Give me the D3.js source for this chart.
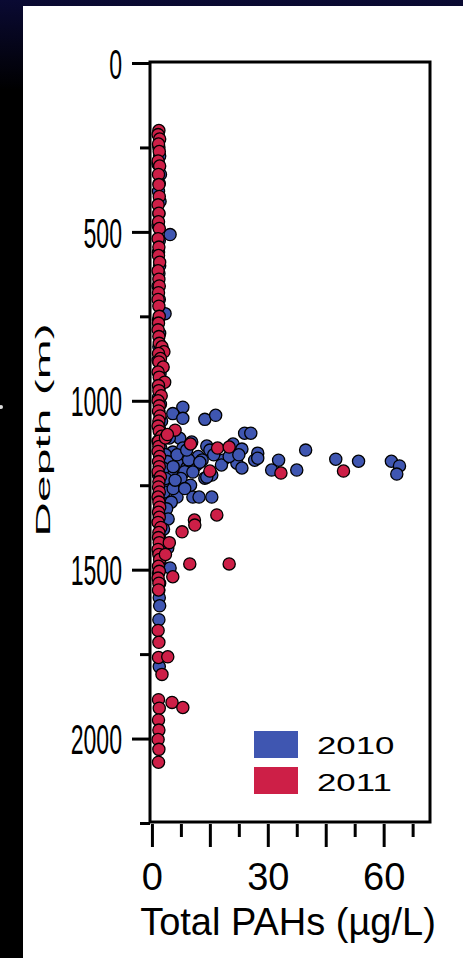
<!DOCTYPE html>
<html lang="en">
<head>
  <meta charset="UTF-8">
  <title>Depth vs Total PAHs</title>
  <script src="https://d3js.org/d3.v7.min.js"></script>
  <style>
    body {
      margin: 0;
      padding: 0;
      width: 463px;
      height: 958px;
      overflow: hidden;
      background: linear-gradient(#0a0a33 0px, #000 90px);
    }
    svg {
      position: absolute;
      left: 0;
      top: 0;
    }
    text {
      font-family: 'Liberation Sans', Arial, sans-serif;
      fill: #000;
    }
  </style>
</head>
<body>
  <svg id="chart" width="463" height="958"></svg>

  <script>
    // 2010 cruise: depth (m) and total PAHs (ug/L)
    var depth2010 = [250, 275, 300, 330, 357, 380, 410, 446, 480, 508, 526, 560, 600, 623, 660, 700,
      742, 760, 800, 840, 880, 920, 960, 990, 1010, 1030, 1060, 1080, 1100, 1120, 1140, 1160, 1180,
      1200, 1220, 1240, 1260, 1280, 1300, 1320, 1340, 1360, 1380, 1400, 1420, 1436, 1450, 1480, 1495,
      1510, 1540, 1560, 1583, 1607, 1648, 1787,
      1019, 1038, 1052, 1055, 1043, 1096, 1096, 1111, 1122, 1134, 1128, 1143, 1146, 1146, 1155, 1152,
      1140, 1176, 1176, 1185, 1176, 1170, 1176, 1173, 1179, 1179, 1193, 1217, 1205, 1205, 1199, 1205,
      1190, 1229, 1220, 1199, 1220, 1241, 1285, 1285, 1285, 1285,
      1160, 1180, 1200, 1250, 1270, 1300, 1320, 1350, 1380, 1110, 1160, 1195, 1210, 1190, 1165, 1175,
      1190, 1160, 1175, 1165, 1160, 1230, 1260, 1230, 1250, 1260, 1146, 1182, 1226, 1211, 1235];
    var pah2010 = [1.8, 2.0, 1.6, 2.2, 1.9, 1.7, 2.1, 1.8, 1.6, 4.7, 1.9, 1.7, 2.0, 1.8, 1.6, 1.9,
      3.4, 1.7, 2.0, 1.8, 1.6, 2.1, 1.9, 1.7, 2.2, 1.8, 2.5, 1.9, 2.7, 1.6, 2.3, 2.8, 1.9,
      2.4, 1.7, 2.6, 2.0, 1.8, 2.5, 1.9, 2.2, 1.7, 2.4, 1.9, 2.0, 4.1, 1.8, 2.1, 4.7,
      1.7, 2.0, 1.8, 1.9, 2.0, 1.8, 1.9,
      8.0, 5.4, 8.0, 13.7, 16.5, 24.0, 25.6, 7.2, 10.3, 14.2, 21.0, 23.3, 15.0, 39.8, 27.4, 5.4,
      8.0, 12.4, 18.4, 22.0, 26.6, 27.4, 32.8, 47.6, 53.5, 62.0, 64.1, 63.4, 31.0, 37.5, 23.3, 10.6,
      7.0, 13.7, 15.5, 9.0, 5.2, 6.0, 6.5, 10.6, 12.2, 15.5,
      3.5, 4.0, 3.0, 4.5, 3.2, 5.0, 3.8, 4.2, 3.0, 4.5, 6.5, 5.5, 8.5, 11.5, 12.0, 9.5,
      18.0, 16.0, 13.0, 20.0, 22.5, 3.5, 5.5, 7.5, 10.0, 8.5, 9.0, 12.4, 14.2, 10.6, 6.0];

    // 2011 cruise: depth (m) and total PAHs (ug/L)
    var depth2011 = [200, 212, 225, 240, 262, 290, 305, 330, 360, 395, 420, 445, 470, 490, 520, 545,
      570, 590, 615, 640, 660, 680, 700, 720, 750, 770, 790, 810, 830, 840, 855, 860, 875, 885, 900,
      915, 930, 945, 955, 970, 985, 1000, 1015, 1030, 1045, 1060, 1075, 1090, 1105, 1120, 1135, 1150,
      1165, 1180, 1195, 1210, 1225, 1240, 1255, 1270, 1285, 1300, 1315, 1330, 1345, 1360, 1375, 1390,
      1405, 1420, 1440, 1455, 1470, 1490, 1505, 1525, 1540, 1560,
      1680, 1715, 1760, 1758, 1810, 1885, 1893, 1908, 1910, 1945, 1975, 2003, 2032, 2070,
      1087, 1128, 1140, 1137, 1214, 1208, 1208, 1338, 1353, 1368, 1388, 1483, 1483, 1521, 1110, 1100,
      1420, 1455];
    var pah2011 = [1.8, 1.6, 2.0, 1.7, 1.9, 1.6, 2.0, 1.7, 1.8, 1.9, 1.6, 1.8, 1.7, 1.9, 1.6, 1.8,
      1.7, 2.0, 1.6, 1.8, 1.9, 1.7, 1.6, 1.8, 1.9, 1.7, 1.6, 1.8, 1.9, 2.6, 3.1, 1.7, 2.2, 1.8, 2.9,
      1.6, 1.9, 3.3, 1.7, 1.8, 2.4, 1.6, 1.9, 1.7, 2.1, 1.8, 1.6, 1.9, 2.5, 1.7, 1.8, 1.6,
      2.0, 1.7, 1.9, 1.6, 2.2, 1.8, 1.7, 1.9, 1.6, 1.8, 2.0, 1.7, 1.9, 1.6, 2.3, 1.8,
      1.7, 1.9, 1.6, 1.8, 2.0, 1.7, 1.9, 1.6, 1.8, 1.7,
      1.6, 1.8, 1.7, 4.1, 2.6, 1.7, 5.2, 8.0, 1.9, 1.7, 1.8, 1.6, 1.8, 1.7,
      6.0, 10.0, 17.0, 20.0, 33.4, 49.6, 15.0, 16.8, 11.0, 11.1, 7.8, 9.8, 20.0, 5.4, 3.5, 4.0,
      4.5, 3.5];

    var yMajorTicks = [0, 500, 1000, 1500, 2000];
    var yMinorTicks = [250, 750, 1250, 1750, 2250];
    var xMajorTicks = [0, 15, 30, 45, 60];
    var xMinorTicks = [7.5, 22.5, 37.5, 52.5, 67.5];
    var xLabelTicks = [0, 30, 60];
    var seriesNames = ['2010', '2011'];
    var seriesColors = ['#3f56b1', '#cd1f47'];

    var plotLeft = 150, plotTop = 62, plotRight = 430, plotBottom = 822;

    var svg = d3.select('#chart');

    // white panel
    svg.append('rect')
      .attr('x', 23).attr('y', 6)
      .attr('width', 463 - 23).attr('height', 958 - 6)
      .attr('fill', '#fff');
    svg.append('circle')
      .attr('cx', 1).attr('cy', 407).attr('r', 2)
      .attr('fill', '#ddd');

    var y = d3.scaleLinear().domain([0, 2250]).range([63, 823]);
    var x = d3.scaleLinear().domain([-0.5, 72]).range([plotLeft, plotRight]);

    // y axis ticks
    var yMajor = svg.append('g')
      .attr('transform', 'translate(' + plotLeft + ',0)')
      .call(d3.axisLeft(y).tickValues(yMajorTicks).tickSize(18).tickSizeOuter(0).tickFormat(d3.format('d')));
    var yMinor = svg.append('g')
      .attr('transform', 'translate(' + plotLeft + ',0)')
      .call(d3.axisLeft(y).tickValues(yMinorTicks).tickSize(10).tickSizeOuter(0).tickFormat(''));

    [yMajor, yMinor].forEach(function(g) {
      g.select('.domain').remove();
      g.selectAll('line').attr('stroke', '#000').attr('stroke-width', 3);
    });
    var sx = 0.55;
    yMajor.selectAll('text')
      .attr('x', -28 / sx)
      .attr('dy', '0.36em')
      .attr('transform', 'scale(' + sx + ',1)')
      .style('font-size', '42px')
      .style('font-family', "'Liberation Sans', Arial, sans-serif")
      .attr('fill', '#000');

    // x axis ticks
    var xMajor = svg.append('g')
      .attr('transform', 'translate(0,' + (plotBottom + 2) + ')')
      .call(d3.axisBottom(x).tickValues(xMajorTicks).tickSize(23).tickSizeOuter(0)
        .tickFormat(function(d) { return xLabelTicks.indexOf(d) >= 0 ? d : ''; }));
    var xMinor = svg.append('g')
      .attr('transform', 'translate(0,' + (plotBottom + 2) + ')')
      .call(d3.axisBottom(x).tickValues(xMinorTicks).tickSize(13).tickSizeOuter(0).tickFormat(''));
    [xMajor, xMinor].forEach(function(g) {
      g.select('.domain').remove();
      g.selectAll('line').attr('stroke', '#000').attr('stroke-width', 3);
    });
    xMajor.selectAll('text')
      .attr('y', 66)
      .attr('dy', 0)
      .style('font-size', '38px')
      .style('font-family', "'Liberation Sans', Arial, sans-serif")
      .attr('fill', '#000');

    // points: 2010 under 2011
    var series = [
      { name: '2010', depth: depth2010, pah: pah2010, color: seriesColors[0] },
      { name: '2011', depth: depth2011, pah: pah2011, color: seriesColors[1] }
    ];
    series.forEach(function(s) {
      svg.append('g')
        .selectAll('circle')
        .data(s.depth.map(function(d, i) { return { depth: d, pah: s.pah[i] }; }))
        .enter().append('circle')
        .attr('cx', function(d) { return x(d.pah); })
        .attr('cy', function(d) { return y(d.depth); })
        .attr('r', 6.1)
        .attr('fill', s.color)
        .attr('stroke', '#000')
        .attr('stroke-width', 1.3);
    });

    // frame
    svg.append('rect')
      .attr('x', plotLeft).attr('y', plotTop)
      .attr('width', plotRight - plotLeft).attr('height', plotBottom - plotTop)
      .attr('fill', 'none')
      .attr('stroke', '#000')
      .attr('stroke-width', 3);

    // legend
    var legend = svg.append('g');
    seriesNames.forEach(function(name, i) {
      legend.append('rect')
        .attr('x', 254).attr('y', 731 + i * 36)
        .attr('width', 44).attr('height', 27)
        .attr('fill', seriesColors[i]);
      legend.append('text')
        .attr('transform', 'translate(317,' + (754 + i * 37) + ') scale(1.45,1)')
        .style('font-size', '24px')
        .text(name);
    });

    // axis titles
    svg.append('text')
      .attr('x', 288).attr('y', 935)
      .attr('text-anchor', 'middle')
      .style('font-size', '38px')
      .text('Total PAHs (\u00b5g/L)');

    svg.append('text')
      .attr('transform', 'translate(50,430) rotate(-90) scale(2.4,1)')
      .attr('text-anchor', 'middle')
      .style('font-size', '20px')
      .text('Depth (m)');
  </script>
</body>
</html>
